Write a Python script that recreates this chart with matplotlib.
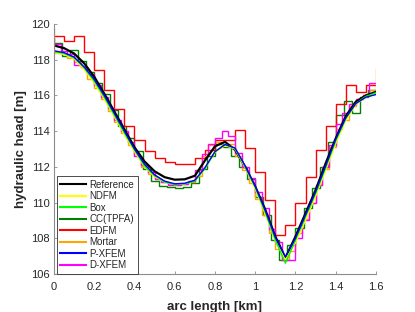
import numpy as np
import matplotlib
matplotlib.use('Agg')
import matplotlib.pyplot as plt

# ────────────────────────────────
# Параметры графики

plt.rcParams['font.family'] = ['Liberation Sans', 'DejaVu Sans']
txt_col = '#262626'
ax_col = '#8c8c8c'

# ────────────────────────────────
# Данные: гладкие кривые, шаг 0.05 км

arc = np.linspace(0.0, 1.6, 33)

reference = [118.80, 118.65, 118.35, 117.80, 117.05, 116.10, 115.10, 114.10, 113.10, 112.30,
             111.75, 111.42, 111.28, 111.30, 111.50, 112.35, 113.15, 113.40, 112.95, 112.00,
             110.90, 109.60, 108.10, 106.90, 108.10, 109.40, 110.70, 112.20, 113.60, 114.85,
             115.65, 116.00, 116.20]

ndfm = [118.40, 118.30, 118.05, 117.45, 116.70, 115.80, 114.80, 113.80, 112.85, 112.00,
        111.45, 111.15, 111.00, 111.05, 111.25, 111.90, 112.80, 113.20, 113.00, 111.95,
        110.75, 109.35, 107.85, 106.80, 107.75, 109.00, 110.35, 111.80, 113.30, 114.60,
        115.50, 115.90, 116.10]

box = [118.45, 118.35, 118.10, 117.55, 116.80, 115.90, 114.90, 113.90, 112.95, 112.05,
       111.50, 111.15, 111.00, 111.05, 111.20, 111.90, 112.85, 113.25, 113.05, 112.00,
       110.85, 109.45, 107.90, 106.60, 107.90, 109.20, 110.50, 111.95, 113.45, 114.70,
       115.55, 115.95, 116.15]

pxfem = [118.50, 118.40, 118.15, 117.60, 116.90, 116.00, 115.00, 114.00, 113.00, 112.15,
         111.55, 111.20, 111.05, 111.08, 111.25, 111.95, 112.85, 113.25, 113.05, 112.05,
         110.90, 109.55, 108.05, 106.95, 108.00, 109.30, 110.60, 112.05, 113.55, 114.75,
         115.55, 115.90, 116.05]

# ────────────────────────────────
# Данные: ступенчатые решения (значения на ячейках)

cc_tpfa = [118.95, 118.20, 118.55, 117.95, 117.30, 116.70, 116.10, 115.20, 114.30, 113.60,
           112.90, 111.90, 111.20, 110.95, 110.85, 110.80, 110.85, 111.10, 111.90, 112.60,
           113.30, 113.10, 112.60, 112.00, 111.30, 110.30, 109.30, 107.90, 106.80, 107.60,
           108.60, 109.70, 110.80, 112.00, 113.40, 114.90, 115.70, 115.00, 115.90, 116.30]

edfm = [119.33, 119.05, 119.33, 118.43, 117.42, 116.30, 115.22, 114.29, 113.50, 112.91,
        112.50, 112.27, 112.16, 112.16, 112.50, 112.95, 113.50, 113.50, 114.06, 113.07,
        111.73, 110.15, 108.19, 108.75, 109.96, 111.45, 112.94, 114.29, 115.52, 116.58,
        116.21, 116.58]

mortar = [118.40, 118.40, 118.10, 117.90, 117.60, 116.90, 116.40, 115.80, 115.10, 114.50,
          113.90, 113.20, 112.60, 112.00, 111.60, 111.30, 111.15, 111.05, 111.00, 111.05,
          111.15, 111.50, 112.60, 113.20, 113.40, 113.20, 113.30, 112.60, 111.80, 111.10,
          110.20, 109.30, 108.30, 107.40, 106.80, 107.30, 108.30, 109.10, 110.00, 111.00,
          111.90, 113.10, 114.10, 114.60, 115.40, 115.80, 116.00, 116.30]
mortar_bc = [119.70, 117.50]  # граничные значения на концах

dxfem = [118.90, 118.50, 118.30, 117.70, 117.60, 117.20, 116.60, 115.90, 115.30, 114.60,
         114.00, 113.40, 112.60, 112.10, 111.70, 111.30, 111.15, 111.00, 111.00, 111.05,
         111.20, 111.80, 112.70, 113.30, 113.60, 114.00, 113.70, 112.80, 112.00, 111.40,
         110.60, 109.70, 108.50, 107.80, 106.80, 106.80, 108.00, 109.00, 110.00, 111.00,
         112.00, 113.20, 114.40, 115.00, 115.50, 115.80, 116.00, 116.70]
dxfem_bc = [119.20, 116.70]

x_ticks = [0, 0.2, 0.4, 0.6, 0.8, 1.0, 1.2, 1.4, 1.6]
x_labels = ['0', '0.2', '0.4', '0.6', '0.8', '1', '1.2', '1.4', '1.6']
y_ticks = [106, 108, 110, 112, 114, 116, 118, 120]


def edges(vals):
    return np.linspace(0.0, 1.6, len(vals) + 1)


# ────────────────────────────────
# Рисуем

fig = plt.figure(figsize=(4.15, 3.12), dpi=100)
ax = fig.add_axes([0.130, 0.122, 0.776, 0.801])

ax.plot(arc, reference, color='k', lw=1.6, label='Reference')
ax.plot(arc, ndfm, color='#ffff00', lw=1.0, label='NDFM')
ax.plot(arc, box, color='#00ff00', lw=1.0, label='Box')
ax.stairs(cc_tpfa, edges(cc_tpfa), baseline=None, color='#008000', lw=1.0, label='CC(TPFA)')
ax.stairs(edfm, edges(edfm), baseline=None, color='#ff0000', lw=1.0, label='EDFM')
ax.stairs(mortar, edges(mortar), baseline=None, color='#ffa500', lw=1.0, label='Mortar')
ax.plot([0, 0], [mortar_bc[0], mortar[0]], color='#ffa500', lw=1.0)
ax.plot([1.6, 1.6], [mortar[-1], mortar_bc[1]], color='#ffa500', lw=1.0)
ax.plot(arc, pxfem, color='#0000ff', lw=1.0, label='P-XFEM')
ax.stairs(dxfem, edges(dxfem), baseline=None, color='#ff00ff', lw=1.0, label='D-XFEM')
ax.plot([0, 0], [dxfem_bc[0], dxfem[0]], color='#ff00ff', lw=1.0)

ax.set_xlim(0, 1.6)
ax.set_ylim(106, 120)
ax.set_xticks(x_ticks)
ax.set_xticklabels(x_labels)
ax.set_yticks(y_ticks)

for s in ['top', 'right']:
    ax.spines[s].set_visible(False)
for s in ['left', 'bottom']:
    ax.spines[s].set_color(ax_col)
    ax.spines[s].set_linewidth(0.8)

ax.tick_params(direction='in', length=2.5, width=0.6, color=ax_col,
               labelsize=8, labelcolor=txt_col)
ax.tick_params(axis='x', pad=6)
ax.tick_params(axis='y', pad=3)

ax.set_xlabel('arc length [km]', fontsize=9.5, fontweight='bold', color=txt_col, labelpad=6)
ax.set_ylabel('hydraulic head [m]', fontsize=9.5, fontweight='bold', color=txt_col, labelpad=3)

leg = ax.legend(loc='lower left', fontsize=7, frameon=True, fancybox=False,
                framealpha=1, edgecolor='#303030', borderaxespad=0.0, borderpad=0.4,
                labelspacing=0.15, handlelength=2.6, handletextpad=0.35,
                bbox_to_anchor=(0.008, 0.0))
leg.get_frame().set_linewidth(0.6)
for line in leg.get_lines():
    line.set_linewidth(1.5)
for t in leg.get_texts():
    t.set_color(txt_col)

fig.savefig('out.png', dpi=100)
